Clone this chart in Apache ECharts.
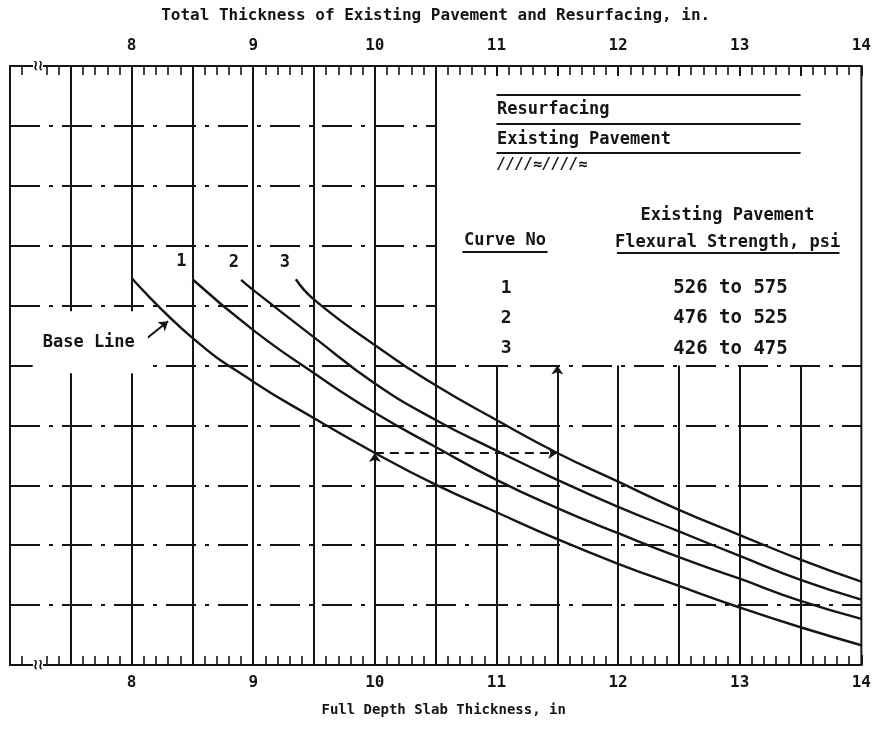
<!DOCTYPE html>
<html>
<head>
<meta charset="utf-8">
<script src="https://cdn.jsdelivr.net/npm/echarts@6/dist/echarts.min.js"></script>
<style>
  html, body { margin: 0; padding: 0; background: #fff; }
  #chart { width: 874px; height: 738px; }
</style>
</head>
<body>
<div id="chart"></div>
<script>
// Tick labels on the two thickness scales (inches)
const slabTickLabels = ['8', '9', '10', '11', '12', '13', '14'];
const totalTickLabels = ['8', '9', '10', '11', '12', '13', '14'];

// Base line
const baseX = [8.0, 8.5, 9.0, 9.5, 10.0, 10.5, 11.0, 11.5, 12.0, 12.5, 13.0, 13.5, 14.0];
const baseY = [6.46, 5.46, 4.73, 4.12, 3.54, 3.01, 2.55, 2.10, 1.69, 1.32, 0.96, 0.63, 0.33];
// Curve 1: 526 to 575 psi
const curve1X = [8.5, 9.0, 9.5, 10.0, 10.5, 11.0, 11.5, 12.0, 12.5, 13.0, 13.5, 14.0];
const curve1Y = [6.44, 5.59, 4.87, 4.21, 3.64, 3.09, 2.62, 2.20, 1.80, 1.44, 1.07, 0.77];
// Curve 2: 476 to 525 psi
const curve2X = [8.9, 9.0, 9.5, 10.0, 10.5, 11.0, 11.5, 12.0, 12.5, 13.0, 13.5, 14.0];
const curve2Y = [6.43, 6.26, 5.47, 4.70, 4.09, 3.58, 3.09, 2.64, 2.23, 1.82, 1.42, 1.09];
// Curve 3: 426 to 475 psi
const curve3X = [9.35, 9.5, 10.0, 10.5, 11.0, 11.5, 12.0, 12.5, 13.0, 13.5, 14.0];
const curve3Y = [6.44, 6.10, 5.34, 4.67, 4.09, 3.54, 3.06, 2.59, 2.17, 1.76, 1.39];

// Curve table
const curveNumbers = ['1', '2', '3'];
const strengthRanges = ['526 to 575', '476 to 525', '426 to 475'];

// Worked example: 10 in. slab on curve 3 gives 11.5 in. total
const exampleSlab = 10.0;
const exampleTotal = 11.5;
const exampleLevel = 3.54;

// Rulings of the chart field
const vLinesFull = [7.5, 8, 8.5, 9, 9.5, 10, 10.5];
const vLinesLower = [11, 11.5, 12, 12.5, 13, 13.5];
const hLinesFull = [1, 2, 3, 4, 5];
const hLinesLeft = [6, 7, 8, 9];

const INK = '#151515';
const FONT = 'DejaVu Sans Mono';

const zip = (xs, ys) => xs.map((x, i) => [x, ys[i]]);

const chart = echarts.init(document.getElementById('chart'), null, { renderer: 'canvas' });

// ruled grid
const dashPattern = [30, 9, 4, 9];
const rulings = [];
vLinesFull.forEach(x => rulings.push([{ coord: [x, 0] }, { coord: [x, 10] }]));
vLinesLower.forEach(x => rulings.push([{ coord: [x, 0] }, { coord: [x, 5] }]));
hLinesFull.forEach(y => rulings.push([
  { coord: [7, y], lineStyle: { type: dashPattern, width: 2 } }, { coord: [14, y] }]));
hLinesLeft.forEach(y => rulings.push([
  { coord: [7, y], lineStyle: { type: dashPattern, width: 2 } }, { coord: [10.5, y] }]));

// text placed in chart units
const textStyle = { fontFamily: FONT, fontWeight: 'bold', color: INK, fontSize: 17 };
function note(coord, text, extra) {
  return {
    coord: coord,
    symbol: 'circle',
    symbolSize: 1,
    itemStyle: { color: 'rgba(0,0,0,0)' },
    label: Object.assign({ show: true, position: 'inside', formatter: text }, textStyle, extra || {})
  };
}
const left = { position: 'right', distance: 0 };

const notes = [
  note([8.41, 6.73], curveNumbers[0]),
  note([8.84, 6.72], curveNumbers[1]),
  note([9.26, 6.72], curveNumbers[2]),
  note([7.66, 5.39], 'Base Line', {
    backgroundColor: '#fff', padding: [25, 13, 20, 10]
  }),
  note([7.23, 10], '≀≀', { fontSize: 14, backgroundColor: '#fff', padding: [2, 0] }),
  note([7.23, 0], '≀≀', { fontSize: 14, backgroundColor: '#fff', padding: [2, 0] }),
  note([11.0, 9.27], 'Resurfacing', left),
  note([11.0, 8.77], 'Existing Pavement', left),
  note([11.0, 8.35], '////≈////≈', Object.assign({ fontSize: 15, fontStyle: 'italic' }, left)),
  note([12.9, 7.51], 'Existing Pavement'),
  note([12.9, 7.06], 'Flexural Strength, psi'),
  note([11.07, 7.09], 'Curve No')
];
curveNumbers.forEach((n, i) => {
  const y = [6.29, 5.79, 5.28][i];
  notes.push(note([11.08, y], n, { fontSize: 18 }));
  notes.push(note([12.45, y], strengthRanges[i], Object.assign({ fontSize: 19 }, left)));
});

const solid = w => ({ type: 'solid', width: w, color: INK });
const annotationLines = [
  // soil/pavement sketch
  [{ coord: [11.0, 9.52], lineStyle: solid(2) }, { coord: [13.5, 9.52] }],
  [{ coord: [11.0, 9.03], lineStyle: solid(2) }, { coord: [13.5, 9.03] }],
  [{ coord: [11.0, 8.55], lineStyle: solid(2) }, { coord: [13.5, 8.55] }],
  // table header underlines
  [{ coord: [10.72, 6.90], lineStyle: solid(1.8) }, { coord: [11.42, 6.90] }],
  [{ coord: [11.99, 6.88], lineStyle: solid(1.8) }, { coord: [13.82, 6.88] }]
];

const arrows = [
  // up the slab line to the base line
  [{ coord: [exampleSlab, exampleLevel - 0.6] }, { coord: [exampleSlab, exampleLevel] }],
  // across to the strength curve
  [{ coord: [exampleSlab, exampleLevel], lineStyle: { type: [9, 6], width: 2, color: INK } },
   { coord: [exampleTotal, exampleLevel] }],
  // up to the total thickness
  [{ coord: [exampleTotal, exampleLevel] }, { coord: [exampleTotal, 5.0] }],
  // pointer to the base line
  [{ coord: [8.11, 5.43], lineStyle: { curveness: -0.35, width: 2, color: INK } },
   { coord: [8.30, 5.74] }]
];

const curveStyle = { color: INK, width: 2.4 };
function curve(name, xs, ys) {
  return {
    name: name, type: 'line', data: zip(xs, ys), xAxisIndex: 0, yAxisIndex: 0,
    symbol: 'none', smooth: 0.5, z: 3,
    lineStyle: curveStyle, silent: true
  };
}

const axisCommon = {
  type: 'value', min: 7, max: 14, interval: 0.5,
  axisLine: { show: true, lineStyle: { color: INK, width: 2 } },
  axisTick: { show: true, inside: true, length: 10, lineStyle: { color: INK, width: 2 } },
  minorTick: { show: true, splitNumber: 5, length: 9, lineStyle: { color: INK, width: 1.6 } },
  splitLine: { show: false },
  nameLocation: 'middle',
  nameTextStyle: { fontFamily: FONT, fontWeight: 'bold', color: INK }
};

chart.setOption({
  backgroundColor: '#fff',
  animation: false,
  grid: {
    left: 10, right: 8, top: 66, bottom: 73,
    show: true, borderColor: INK, borderWidth: 2, backgroundColor: '#fff'
  },
  xAxis: [
    Object.assign({}, axisCommon, {
      position: 'bottom',
      name: 'Full Depth Slab Thickness, in',
      nameGap: 38,
      nameTextStyle: Object.assign({}, axisCommon.nameTextStyle, { fontSize: 14, padding: [0, 0, 0, 16] }),
      axisLabel: {
        interval: 0, margin: 10, fontFamily: FONT, fontWeight: 'bold', fontSize: 16, color: INK,
        showMaxLabel: true,
        formatter: v => slabTickLabels.includes(String(v)) ? String(v) : ''
      }
    }),
    Object.assign({}, axisCommon, {
      position: 'top',
      name: 'Total Thickness of Existing Pavement and Resurfacing, in.',
      nameGap: 42,
      nameTextStyle: Object.assign({}, axisCommon.nameTextStyle, { fontSize: 16 }),
      axisLabel: {
        interval: 0, margin: 12, fontFamily: FONT, fontWeight: 'bold', fontSize: 16, color: INK,
        showMaxLabel: true,
        formatter: v => totalTickLabels.includes(String(v)) ? String(v) : ''
      }
    })
  ],
  yAxis: {
    type: 'value', min: 0, max: 10, interval: 1, show: false
  },
  series: [
    {
      type: 'scatter', data: [], z: 1, silent: true,
      markLine: {
        silent: true, symbol: ['none', 'none'], label: { show: false },
        lineStyle: { color: INK, width: 2, type: 'solid' },
        data: rulings
      }
    },
    curve('Base Line', baseX, baseY),
    curve('1', curve1X, curve1Y),
    curve('2', curve2X, curve2Y),
    curve('3', curve3X, curve3Y),
    {
      type: 'scatter', data: [], z: 4, silent: true,
      markLine: {
        silent: true, symbol: ['none', 'none'], label: { show: false },
        lineStyle: { color: INK, width: 2, type: 'solid' },
        data: annotationLines
      }
    },
    {
      type: 'scatter', data: [], z: 4, silent: true,
      markLine: {
        silent: true, symbol: ['none', 'arrow'], symbolSize: 9, label: { show: false },
        lineStyle: { color: INK, width: 2, type: 'solid' },
        data: arrows
      }
    },
    {
      type: 'scatter', data: [], z: 5, silent: true,
      markPoint: { silent: true, data: notes }
    }
  ]
});
</script>
</body>
</html>
